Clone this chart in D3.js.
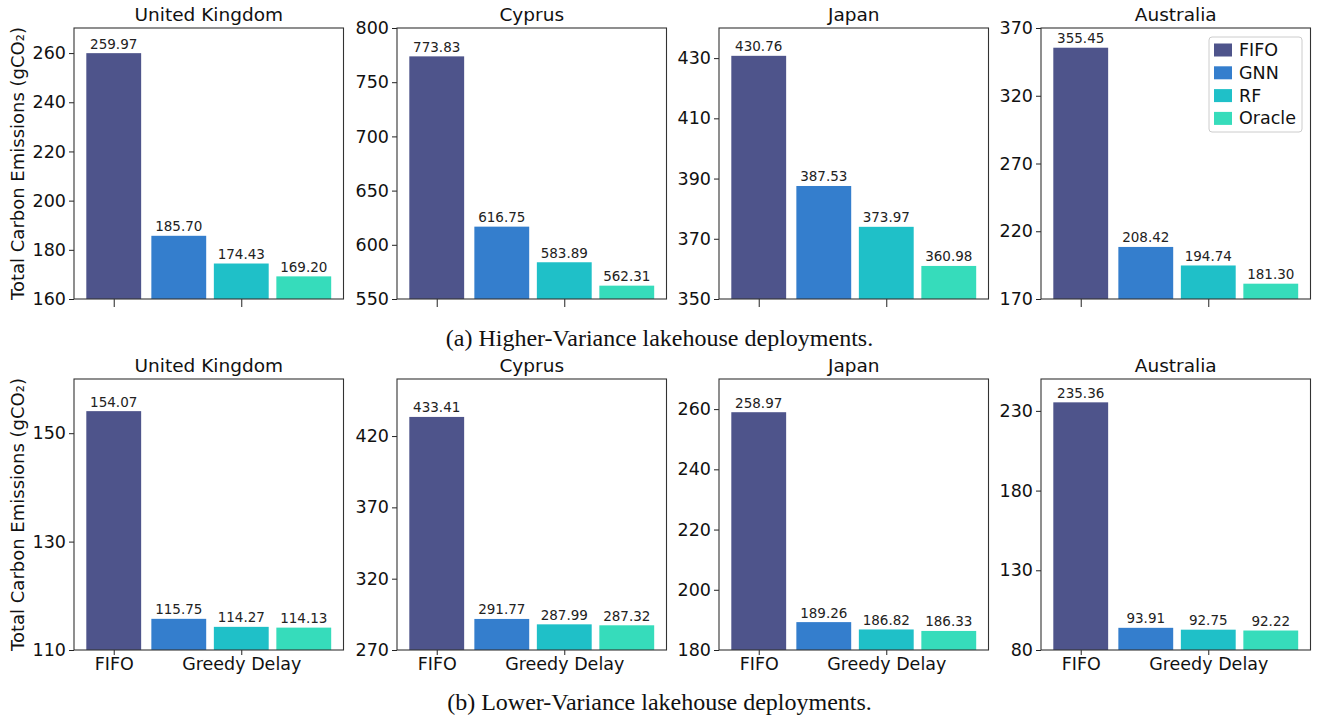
<!DOCTYPE html>
<html><head><meta charset="utf-8">
<script src="https://cdn.jsdelivr.net/npm/d3@7"></script>
<style>body{margin:0;background:#fff}svg{display:block}</style>
</head><body>
<svg id="c" width="1317" height="717"></svg>
<script>
const countries = ["United Kingdom", "Cyprus", "Japan", "Australia"];
const methods = ["FIFO", "GNN", "RF", "Oracle"];
const groupLabels = ["FIFO", "Greedy Delay"];
const colors = ["#4e548b", "#347ecd", "#1fc0c8", "#36dcbb"];
const highVar = [
  [259.97, 185.70, 174.43, 169.20],
  [773.83, 616.75, 583.89, 562.31],
  [430.76, 387.53, 373.97, 360.98],
  [355.45, 208.42, 194.74, 181.30]
];
const lowVar = [
  [154.07, 115.75, 114.27, 114.13],
  [433.41, 291.77, 287.99, 287.32],
  [258.97, 189.26, 186.82, 186.33],
  [235.36, 93.91, 92.75, 92.22]
];
const highTicks = [[160,180,200,220,240,260],[550,600,650,700,750,800],[350,370,390,410,430],[170,220,270,320,370]];
const lowTicks = [[110,130,150],[270,320,370,420],[180,200,220,240,260],[80,130,180,230]];
const highDomain = [[160,270.2],[550,800],[350,440],[170,370]];
const lowDomain = [[110,160],[270,460],[180,270],[80,250]];
const captions = ["(a) Higher-Variance lakehouse deployments.", "(b) Lower-Variance lakehouse deployments."];

const svg = d3.select("#c");
const sans = "DejaVu Sans, sans-serif";
const panelLefts = [74, 397, 719, 1041];
const panelW = 269.5;
const rows = [
  {top: 28, bottom: 299, data: highVar, ticks: highTicks, dom: highDomain, labels: false, caption: captions[0], capY: 346},
  {top: 379, bottom: 650, data: lowVar, ticks: lowTicks, dom: lowDomain, labels: true, caption: captions[1], capY: 710}
];
// bar layout in group units
const groupOf = [0, 1, 1, 1];
const offsetOf = [0, -0.49, 0, 0.49];
const barW = 0.43;

rows.forEach((row, ri) => {
  countries.forEach((country, ci) => {
    const left = panelLefts[ci];
    const x = d3.scaleLinear().domain([-0.3115, 1.8015]).range([left, left + panelW]);
    const y = d3.scaleLinear().domain(row.dom[ci]).range([row.bottom, row.top]);
    const g = svg.append("g");
    const vals = row.data[ci];
    // bars
    g.selectAll("rect.bar").data(vals).enter().append("rect")
      .attr("x", (d, i) => x(groupOf[i] + offsetOf[i] - barW / 2))
      .attr("width", (d, i) => x(barW) - x(0))
      .attr("y", d => y(d))
      .attr("height", d => row.bottom - y(d))
      .attr("fill", (d, i) => colors[i]);
    // value labels
    g.selectAll("text.val").data(vals).enter().append("text")
      .attr("x", (d, i) => x(groupOf[i] + offsetOf[i]))
      .attr("y", d => y(d) - 4.5)
      .attr("text-anchor", "middle")
      .attr("font-family", sans).attr("font-size", 13.5).attr("fill", "#222")
      .text(d => d.toFixed(2));
    // y axis
    const ya = d3.axisLeft(y).tickValues(row.ticks[ci]).tickSize(5).tickPadding(3).tickFormat(d3.format("d"));
    const yg = g.append("g").attr("transform", `translate(${left},0)`).call(ya);
    yg.select(".domain").remove();
    yg.selectAll("text").attr("font-family", sans).attr("font-size", 17.5).attr("fill", "#111");
    yg.selectAll("line").attr("stroke", "#222");
    // x axis
    const xa = d3.axisBottom(x).tickValues([0, 1]).tickSize(row.labels ? 5 : 8).tickPadding(3)
      .tickFormat(d => row.labels ? groupLabels[d] : "");
    const xg = g.append("g").attr("transform", `translate(0,${row.bottom})`).call(xa);
    xg.select(".domain").remove();
    xg.selectAll("text").attr("font-family", sans).attr("font-size", 17.5).attr("fill", "#111");
    xg.selectAll("line").attr("stroke", "#222");
    // frame
    g.append("rect").attr("x", left).attr("y", row.top).attr("width", panelW).attr("height", row.bottom - row.top)
      .attr("fill", "none").attr("stroke", "#333").attr("stroke-width", 1.1);
    // title
    g.append("text").attr("x", left + panelW / 2).attr("y", row.top - 7)
      .attr("text-anchor", "middle").attr("font-family", sans).attr("font-size", 18.5).attr("fill", "#111")
      .text(country);
    // y label
    if (ci === 0) {
      const cy = (row.top + row.bottom) / 2;
      g.append("text").attr("transform", `translate(24,${cy}) rotate(-90)`)
        .attr("text-anchor", "middle").attr("font-family", sans).attr("font-size", 18).attr("fill", "#111")
        .text("Total Carbon Emissions (gCO₂)");
    }
  });
  svg.append("text").attr("x", 659.5).attr("y", row.capY).attr("text-anchor", "middle")
    .attr("font-family", "Liberation Serif, Times New Roman, serif").attr("font-size", 24).attr("fill", "#111")
    .text(row.caption);
});

// legend in Australia top panel
const lg = svg.append("g").attr("transform", "translate(1209,37)");
lg.append("rect").attr("width", 93).attr("height", 95).attr("rx", 3)
  .attr("fill", "#fff").attr("fill-opacity", 0.8).attr("stroke", "#ccc");
methods.forEach((m, i) => {
  const yy = 13 + i * 22.8;
  lg.append("rect").attr("x", 5).attr("y", yy - 6.5).attr("width", 18).attr("height", 13).attr("fill", colors[i]);
  lg.append("text").attr("x", 30).attr("y", yy + 6).attr("font-family", sans).attr("font-size", 17.5)
    .attr("fill", "#111").text(m);
});
</script>
</body></html>
